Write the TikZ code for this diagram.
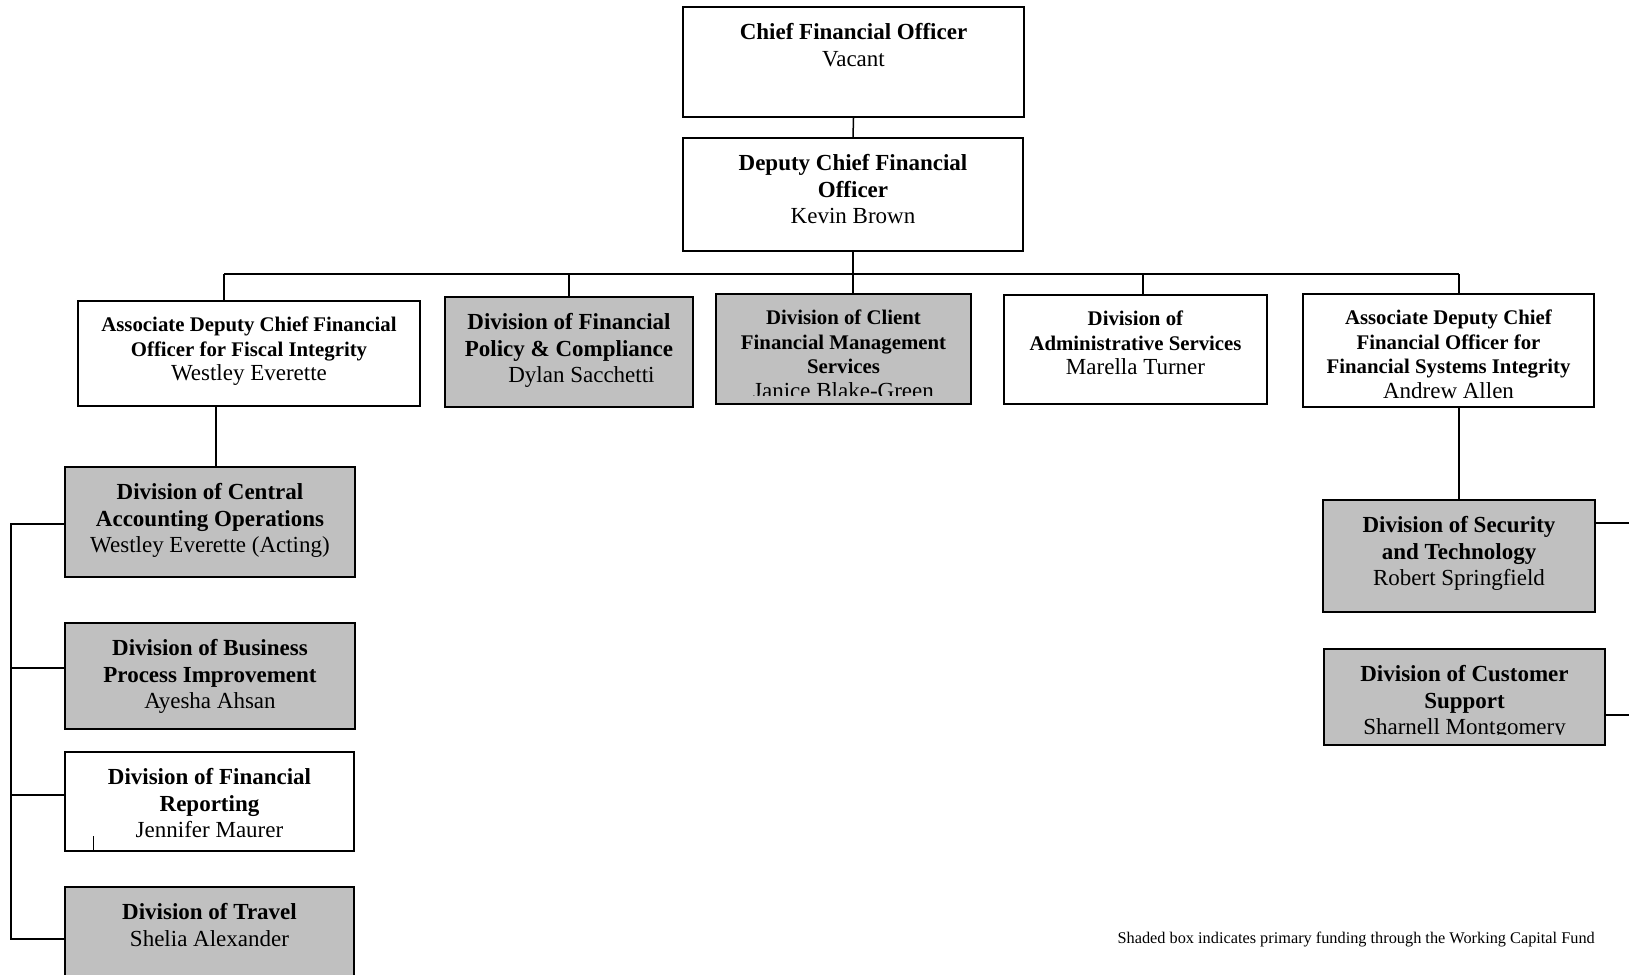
\documentclass[tikz,border=0pt]{standalone}
\usepackage{fontspec}
\setmainfont{Liberation Serif}
\usepackage{xcolor}
\definecolor{boxgray}{RGB}{192,192,192}
\usepackage{tikz}
\usetikzlibrary{positioning,calc}

\tikzset{
  unit/.style={draw,line width=1.6pt,inner sep=0pt},
  fund/.style={unit,fill=boxgray},
  bigtxt/.style={below=17pt of #1,align=center,inner sep=0pt,font=\fontsize{23}{26.5}\selectfont},
  smalltxt/.style={below=16.5pt of #1,align=center,inner sep=0pt,font=\fontsize{20.8}{24.5}\selectfont},
  link/.style={line width=1.5pt},
}
\newcommand{\who}[1]{{\fontsize{23}{24.5}\selectfont #1}}

\begin{document}
\begin{tikzpicture}[x=1pt,y=-1pt]
  \useasboundingbox (0,0) rectangle (1629,974);
  \clip (0,0) rectangle (1629,974);
  % 最上层
  \node[unit,minimum width=341,minimum height=110] (cfo) at (853.5,62) {};
  \node[bigtxt=cfo.north] (cfo-t) {\textbf{Chief Financial Officer}\\Vacant};
  \node[unit,minimum width=340,minimum height=113] (dcfo) at (853,194.5) {};
  \node[bigtxt=dcfo.north] (dcfo-t) {\textbf{Deputy Chief Financial}\\\textbf{Officer}\\Kevin Brown};
  % 第二层
  \node[unit,minimum width=342,minimum height=105] (adfi) at (249,353.5) {};
  \node[smalltxt=adfi.north] (adfi-t) {\textbf{Associate Deputy Chief Financial}\\\textbf{Officer for Fiscal Integrity}\\\who{Westley Everette}};
  \node[fund,minimum width=248,minimum height=110] (dfpc) at (569,352) {};
  \node[bigtxt=dfpc.north] (dfpc-t) {\textbf{Division of Financial}\\\textbf{Policy \& Compliance}\\\hspace*{25pt}Dylan Sacchetti};
  \node[fund,minimum width=255,minimum height=110] (dcfms) at (843.5,349) {};
  \begin{scope}
    \clip (dcfms.north west) rectangle ($(dcfms.south east)+(0,-9)$);
    \node[smalltxt=dcfms.north] (dcfms-t) {\textbf{Division of Client}\\\textbf{Financial Management}\\\textbf{Services}\\\who{Janice Blake-Green}};
  \end{scope}
  \node[unit,minimum width=263,minimum height=109] (das) at (1135.5,349.5) {};
  \node[smalltxt=das.north] (das-t) {\textbf{Division of}\\\textbf{Administrative Services}\\\who{Marella Turner}};
  \node[unit,minimum width=291,minimum height=113] (adfsi) at (1448.5,350.5) {};
  \node[smalltxt=adfsi.north] (adfsi-t) {\textbf{Associate Deputy Chief}\\\textbf{Financial Officer for}\\\textbf{Financial Systems Integrity}\\\who{Andrew Allen}};
  % 左列
  \node[fund,minimum width=290,minimum height=110] (dcao) at (210,522) {};
  \node[bigtxt=dcao.north] (dcao-t) {\textbf{Division of Central}\\\textbf{Accounting Operations}\\Westley Everette (Acting)};
  \node[fund,minimum width=290,minimum height=106] (dbpi) at (210,676) {};
  \node[bigtxt=dbpi.north] (dbpi-t) {\textbf{Division of Business}\\\textbf{Process Improvement}\\Ayesha Ahsan};
  \node[unit,minimum width=289,minimum height=99] (dfr) at (209.5,801.5) {};
  \node[bigtxt=dfr.north] (dfr-t) {\textbf{Division of Financial}\\\textbf{Reporting}\\Jennifer Maurer};
  \node[fund,minimum width=289,minimum height=110] (dtr) at (209.5,942) {};
  \node[bigtxt=dtr.north] (dtr-t) {\textbf{Division of Travel}\\Shelia Alexander};
  % 右列
  \node[fund,minimum width=272,minimum height=112] (dst) at (1459,556) {};
  \node[bigtxt=dst.north] (dst-t) {\textbf{Division of Security}\\\textbf{and Technology}\\Robert Springfield};
  \node[fund,minimum width=281,minimum height=96] (dcs) at (1464.5,697) {};
  \begin{scope}
    \clip (dcs.north west) rectangle ($(dcs.south east)+(0,-11)$);
    \node[bigtxt=dcs.north] (dcs-t) {\textbf{Division of Customer}\\\textbf{Support}\\Sharnell Montgomery};
  \end{scope}
  % 连线
  \draw[link] (cfo.south) -- (dcfo.north);
  \coordinate (busL) at (224,274);
  \coordinate (busR) at (1459,274);
  \draw[link] (busL) -- (busR);
  \draw[link] (dcfo.south) -- (dcfo.south |- busL) -- (dcfo.south |- dcfms.north);
  \draw[link] (busL) -- (busL |- adfi.north);
  \draw[link] (busR) -- (busR |- adfsi.north);
  \draw[link] (dfpc.north) -- (dfpc.north |- busL);
  \coordinate (dasTop) at ($(das.north)+(7.5,0)$);
  \draw[link] (dasTop) -- (dasTop |- busL);
  \coordinate (caoTop) at ($(dcao.north)+(6,0)$);
  \draw[link] (caoTop) -- (caoTop |- adfi.south);
  \draw[link] (dst.north) -- (dst.north |- adfsi.south);
  % 左侧竖线
  \coordinate (spine) at (11,524);
  \coordinate (caoIn) at ($(dcao.west)+(0,2)$);
  \coordinate (trIn) at ($(dtr.west)+(0,-3)$);
  \draw[link] (caoIn) -- (caoIn -| spine) -- (spine |- trIn) -- (trIn);
  \coordinate (bpiIn) at ($(dbpi.west)+(0,-8)$);
  \draw[link] (bpiIn) -- (bpiIn -| spine);
  \coordinate (frIn) at ($(dfr.west)+(0,-6.5)$);
  \draw[link] (frIn) -- (frIn -| spine);
  % 右侧短线
  \coordinate (edge) at (1629,0);
  \coordinate (stOut) at ($(dst.east)+(0,-33)$);
  \draw[link] (stOut) -- (stOut -| edge);
  \coordinate (csOut) at ($(dcs.east)+(0,18)$);
  \draw[link] (csOut) -- (csOut -| edge);
  % 小刻度
  \coordinate (tick) at ($(dfr.south west)+(29.5,0)$);
  \draw[line width=0.8pt] (tick) -- ++(0,-16);
  % 说明
  \node[anchor=base east,inner sep=0pt,font=\fontsize{16.3}{19}\selectfont] (note) at (1595,943) {Shaded box indicates primary funding through the Working Capital Fund};
\end{tikzpicture}
\end{document}
